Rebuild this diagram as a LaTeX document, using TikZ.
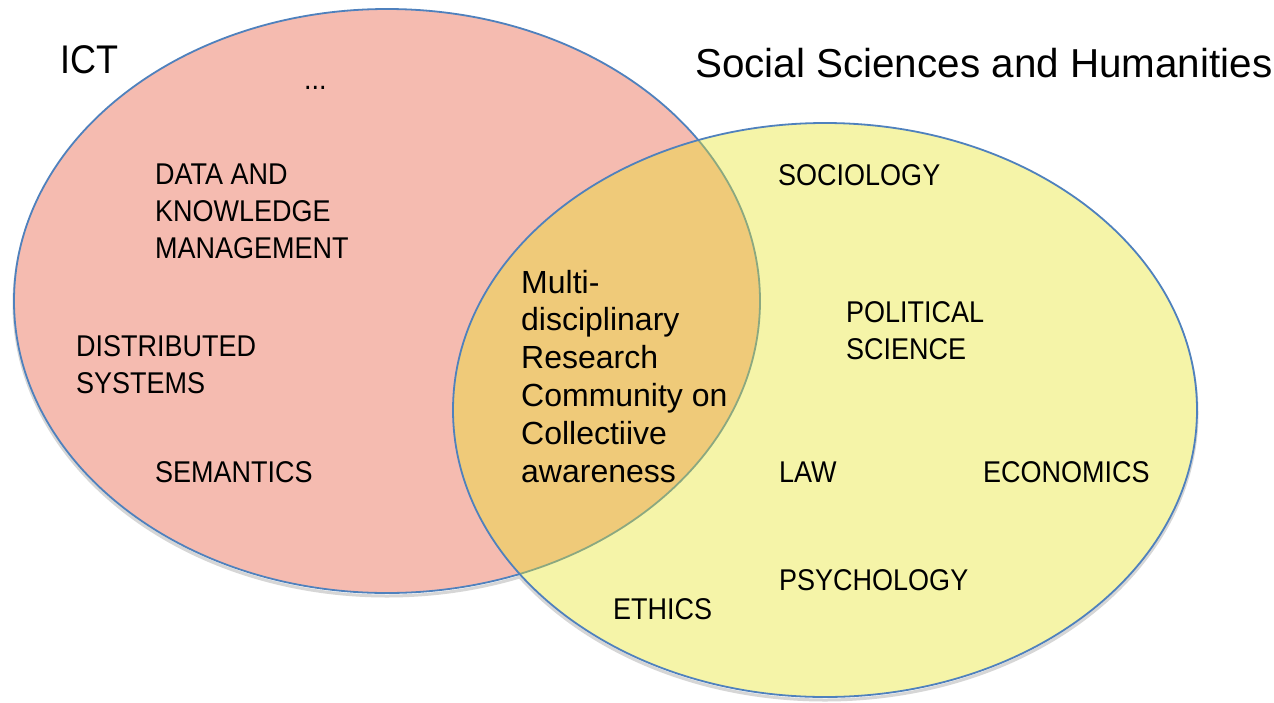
\documentclass[tikz,border=0pt]{standalone}
\usepackage{fontspec}
\setmainfont{Liberation Sans}
\newfontfamily\narrowfont[FakeStretch=0.9]{Liberation Sans}

\definecolor{ictfill}{RGB}{245,187,176}
\definecolor{sshfill}{RGB}{245,244,168}
\definecolor{bothfill}{RGB}{239,202,121}
\definecolor{rimblue}{RGB}{79,129,189}
\definecolor{rimgreen}{RGB}{139,168,128}

% sizes of the two sets
\edef\ictrx{373pt}
\edef\ictry{292pt}
\edef\sshrx{372pt}
\edef\sshry{287pt}

\tikzset{
  rim/.style={draw=rimblue, line width=1.8pt},
  dropshade/.style={draw=black!16, line width=3pt},
  % multi-line nodes sit on the baseline of their last line
  topic/.style={anchor=base west, inner sep=0pt, align=left,
    font=\narrowfont\fontsize{30}{37}\selectfont},
  core/.style={anchor=base west, inner sep=0pt, align=left,
    font=\fontsize{32}{37.8}\selectfont},
  settitle/.style={anchor=base west, inner sep=0pt}
}

\begin{document}
\begin{tikzpicture}[x=1pt, y=-1pt]
  \useasboundingbox[fill=white] (0,0) rectangle (1274,702);
  \coordinate (ict) at (387,301);
  \coordinate (ssh) at (825,410);

  % draw the shadows
  \draw[dropshade] (387,304) ellipse [x radius=\ictrx, y radius=\ictry];
  \draw[dropshade] (825,413) ellipse [x radius=\sshrx, y radius=\sshry];

  % draw the sets
  \draw[rim, fill=ictfill] (ict) ellipse [x radius=\ictrx, y radius=\ictry];
  \fill[sshfill] (ssh) ellipse [x radius=\sshrx, y radius=\sshry];
  \begin{scope}
    \clip (ssh) ellipse [x radius=\sshrx, y radius=\sshry];
    \draw[draw=rimgreen, line width=1.8pt, fill=bothfill]
      (ict) ellipse [x radius=\ictrx, y radius=\ictry];
  \end{scope}
  \draw[rim] (ssh) ellipse [x radius=\sshrx, y radius=\sshry];

  % label the sets
  \node[settitle, font=\narrowfont\fontsize{40}{48}\selectfont] (icttitle) at (60,73) {ICT};
  \node[settitle, font=\fontsize{40.4}{48}\selectfont] (sshtitle) at (695,77) {Social Sciences and Humanities};

  % ICT topics
  \node[topic] (more) at (304,89) {...};
  \node[topic] (data) at (155,258) {DATA AND\\KNOWLEDGE\\MANAGEMENT};
  \node[topic] (distributed) at (76,393) {DISTRIBUTED\\SYSTEMS};
  \node[topic] (semantics) at (155,482) {SEMANTICS};

  % the common part
  \node[core] (community) at (521,482)
    {Multi-\\disciplinary\\Research\\Community on\\Collectiive\\awareness};

  % SSH topics
  \node[topic] (sociology) at (778,185) {SOCIOLOGY};
  \node[topic] (political) at (846,359) {POLITICAL\\SCIENCE};
  \node[topic] (law) at (779,482) {LAW};
  \node[topic] (economics) at (983,482) {ECONOMICS};
  \node[topic] (psychology) at (779,590) {PSYCHOLOGY};
  \node[topic] (ethics) at (613,619) {ETHICS};
\end{tikzpicture}
\end{document}
